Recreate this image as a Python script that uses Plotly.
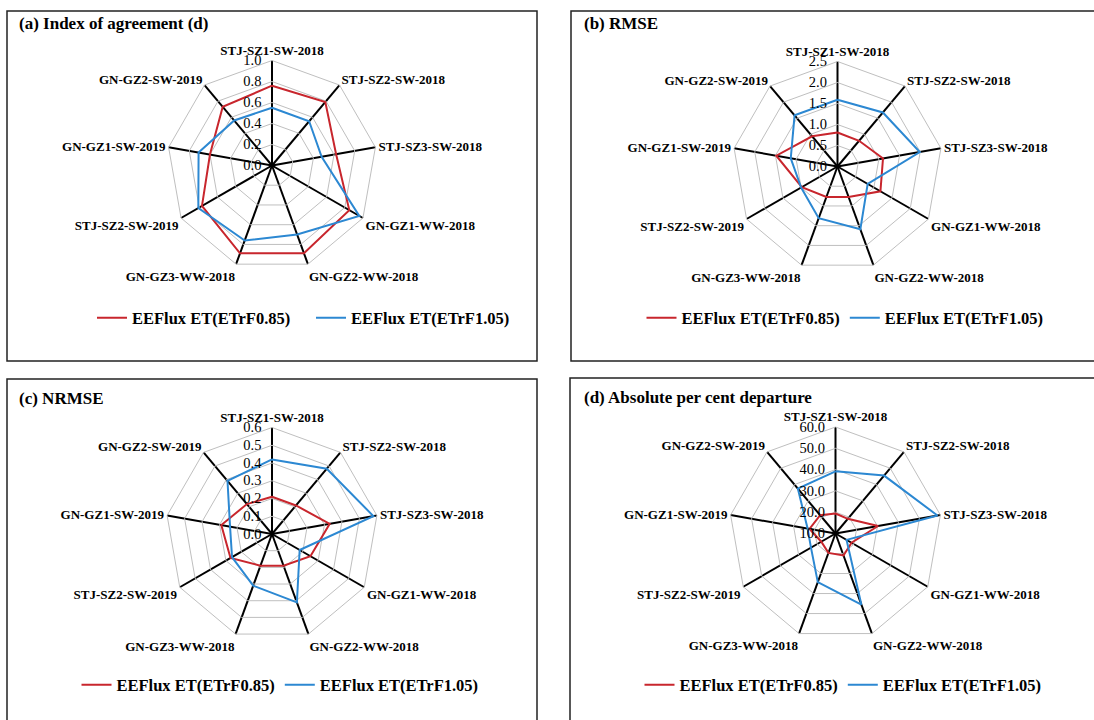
import plotly.graph_objects as go

categories = ["STJ-SZ1-SW-2018", "STJ-SZ2-SW-2018", "STJ-SZ3-SW-2018",
              "GN-GZ1-WW-2018", "GN-GZ2-WW-2018", "GN-GZ3-WW-2018",
              "STJ-SZ2-SW-2019", "GN-GZ1-SW-2019", "GN-GZ2-SW-2019"]

series_names = ["EEFlux ET(ETrF0.85)", "EEFlux ET(ETrF1.05)"]

# (a) Index of agreement (d)
d_red = [0.76, 0.79, 0.62, 0.85, 0.89, 0.89, 0.77, 0.60, 0.73]
d_blue = [0.55, 0.55, 0.48, 0.96, 0.70, 0.76, 0.81, 0.71, 0.56]
# (b) RMSE
rmse_red = [0.81, 0.80, 1.10, 1.18, 0.77, 0.77, 0.98, 1.48, 0.94]
rmse_blue = [1.59, 1.68, 1.99, 0.83, 1.59, 1.31, 1.00, 1.13, 1.59]
# (c) NRMSE
nrmse_red = [0.21, 0.21, 0.33, 0.25, 0.19, 0.19, 0.27, 0.29, 0.22]
nrmse_blue = [0.42, 0.48, 0.58, 0.18, 0.41, 0.31, 0.26, 0.24, 0.39]
# (d) Absolute per cent departure
apd_red = [19.4, 19.0, 30.3, 18.7, 21.0, 19.7, 17.7, 22.4, 21.2]
apd_blue = [39.2, 45.5, 58.6, 16.0, 45.5, 34.3, 23.3, 23.3, 37.5]

panel_titles = ["(a) Index of agreement (d)", "(b) RMSE", "(c) NRMSE",
                "(d) Absolute per cent departure"]
radial_ranges = [[0, 1.0], [0, 2.5], [0, 0.6], [10, 60]]
radial_dticks = [0.2, 0.5, 0.1, 10]

W, H = 1094, 720
RED = "#C8262D"
BLUE = "#2C88D2"
FONT = "Liberation Serif"

panels = [
    dict(vals=(d_red, d_blue), cx=272, cy=165.5, R=105, box=(7, 11, 537, 361),
         title_xy=(17, 23), legend_xy=(311, 318), entry=174),
    dict(vals=(rmse_red, rmse_blue), cx=837.5, cy=166.5, R=105, box=(571, 11, 1104, 361),
         title_xy=(582, 23), legend_xy=(845, 318), entry=0),
    dict(vals=(nrmse_red, nrmse_blue), cx=272, cy=534, R=106.5, box=(7, 379, 537, 730),
         title_xy=(17, 398), legend_xy=(280, 685), entry=0),
    dict(vals=(apd_red, apd_blue), cx=835.5, cy=533.5, R=106.5, box=(570, 378, 1104, 730),
         title_xy=(582, 397), legend_xy=(843, 685), entry=0),
]

fig = go.Figure()
layout_updates = {}
shapes = []
annotations = []

for i, p in enumerate(panels):
    pname = "polar" if i == 0 else f"polar{i+1}"
    lname = "legend" if i == 0 else f"legend{i+1}"
    for vals, name, color in zip(p["vals"], series_names, [RED, BLUE]):
        fig.add_trace(go.Scatterpolar(
            r=list(vals) + [vals[0]],
            theta=categories + [categories[0]],
            mode="lines",
            line=dict(color=color, width=2),
            name=name,
            subplot=pname,
            legend=lname,
            hoverinfo="skip",
        ))
    cx, cy, R = p["cx"], p["cy"], p["R"]
    layout_updates[pname] = dict(
        domain=dict(x=[(cx - R) / W, (cx + R) / W],
                    y=[(H - cy - R) / H, (H - cy + R) / H]),
        bgcolor="white",
        gridshape="linear",
        angularaxis=dict(
            type="category",
            categoryarray=categories,
            rotation=90,
            direction="clockwise",
            showgrid=True,
            gridcolor="black",
            gridwidth=2,
            showline=True,
            linecolor="#BFBFBF",
            linewidth=1,
            ticks="",
            tickfont=dict(family=FONT, size=13, color="black", weight="bold"),
        ),
        radialaxis=dict(
            range=radial_ranges[i],
            dtick=radial_dticks[i],
            tick0=radial_ranges[i][0],
            tickformat=".1f",
            angle=90,
            side="counterclockwise",
            tickangle=90,
            showline=False,
            ticks="outside",
            ticklen=5,
            tickcolor="rgba(0,0,0,0)",
            gridcolor="#BFBFBF",
            gridwidth=1,
            tickfont=dict(family=FONT, size=14.5, color="black"),
        ),
    )
    lx, ly = p["legend_xy"]
    leg = dict(
        orientation="h",
        x=lx / W, y=1 - ly / H,
        xanchor="center", yanchor="middle",
        font=dict(family=FONT, size=16.5, color="black", weight="bold"),
        bgcolor="rgba(0,0,0,0)",
        itemclick=False, itemdoubleclick=False,
    )
    if p["entry"]:
        leg["entrywidth"] = p["entry"]
        leg["entrywidthmode"] = "pixels"
    layout_updates[lname] = leg
    x0, y0, x1, y1 = p["box"]
    shapes.append(dict(type="rect", xref="paper", yref="paper",
                       x0=x0 / W, x1=x1 / W, y0=1 - y1 / H, y1=1 - y0 / H,
                       line=dict(color="#222222", width=1.5), fillcolor="rgba(0,0,0,0)"))
    tx, ty = p["title_xy"]
    annotations.append(dict(text=panel_titles[i], xref="paper", yref="paper",
                            x=tx / W, y=1 - ty / H, xanchor="left", yanchor="middle",
                            showarrow=False,
                            font=dict(family=FONT, size=17, color="black", weight="bold")))

fig.update_layout(
    width=W, height=H, autosize=False,
    margin=dict(l=0, r=0, t=0, b=0),
    paper_bgcolor="white",
    plot_bgcolor="white",
    shapes=shapes,
    annotations=annotations,
    showlegend=True,
    **layout_updates,
)

fig.write_html("out.html",
               config={"displayModeBar": False},
               post_script="document.body.style.margin='0px';"
                           "document.body.style.overflow='hidden';")
